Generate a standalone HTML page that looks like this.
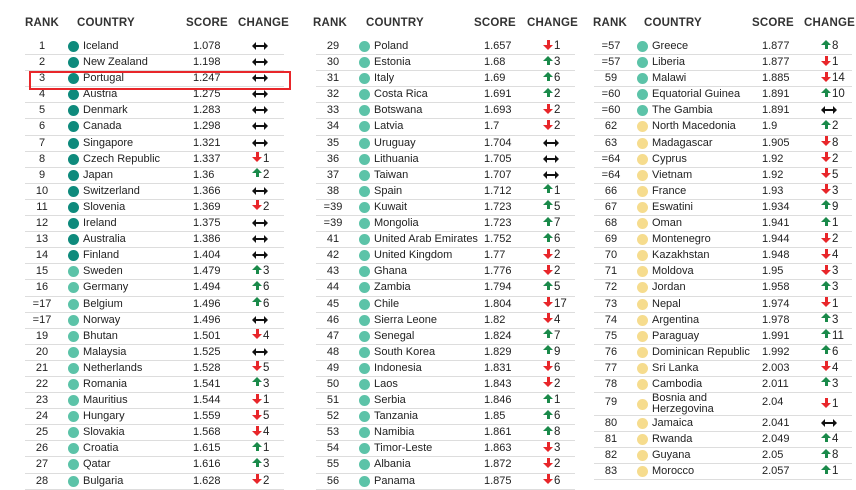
<!DOCTYPE html>
<html><head><meta charset="utf-8"><style>
body{margin:0;width:856px;height:488px;background:#fff;font-family:"Liberation Sans",Arial,sans-serif;color:#222;position:relative;overflow:hidden}
.h{position:absolute;top:17px;font-weight:bold;font-size:11.5px;color:#333;letter-spacing:0.2px}
.col{position:absolute;top:39px;width:259px}
.r{position:relative;height:16.1px;border-bottom:1px solid #ddd;box-sizing:border-box;font-size:11px;line-height:15px}
.r.tall{height:23px;line-height:10.5px}
.k{position:absolute;left:0;width:34px;text-align:center}
.d{position:absolute;left:43px;top:2px;width:11px;height:11px;border-radius:50%}
.tall .d{top:6px}
.t{background:#0e8a7c}.l{background:#5cc3a8}.y{background:#f6dc8e}
.c{position:absolute;left:58px;white-space:nowrap}
.tall .c{top:0}
.s{position:absolute;left:168px}
.tall .s,.tall .k,.tall .g{top:4px}
.g{position:absolute;left:226px;top:0;width:40px;height:15px;line-height:15px}
.g i{position:absolute;left:1px;top:0.5px;width:10px;height:10px}
.g i::before{content:"";position:absolute;left:0;border-left:5px solid transparent;border-right:5px solid transparent}
.g i::after{content:"";position:absolute;left:3.5px;width:3px;height:5px}
.up i::before{top:0;border-bottom:5px solid #1a8a4a}
.up i::after{top:4px;background:#1a8a4a}
.dn i::before{top:5px;border-top:5px solid #e8262a}
.dn i::after{top:0;background:#e8262a}
.g b{position:absolute;left:12px;top:0;font-weight:normal;font-size:11.5px;line-height:15px}
.eq i{left:2px;width:14px;top:6px;height:2px;background:#111}
.eq i::before{left:-1px;top:-3px;border:0;border-top:4px solid transparent;border-bottom:4px solid transparent;border-right:4px solid #111}
.eq i::after{left:11px;top:-3px;width:0;height:0;background:none;border-top:4px solid transparent;border-bottom:4px solid transparent;border-left:4px solid #111}
.box{position:absolute;left:29px;top:71px;width:258px;height:15px;border:2px solid #e8262a}
</style></head><body>
<div class="h" style="left:25px">RANK</div><div class="h" style="left:77px">COUNTRY</div><div class="h" style="left:186px">SCORE</div><div class="h" style="left:238px">CHANGE</div>
<div class="h" style="left:313px">RANK</div><div class="h" style="left:366px">COUNTRY</div><div class="h" style="left:474px">SCORE</div><div class="h" style="left:527px">CHANGE</div>
<div class="h" style="left:593px">RANK</div><div class="h" style="left:644px">COUNTRY</div><div class="h" style="left:752px">SCORE</div><div class="h" style="left:804px">CHANGE</div>

<div class="col" style="left:25px">
<div class="r"><span class="k">1</span><i class="d t"></i><span class="c">Iceland</span><span class="s">1.078</span><span class="g eq"><i></i></span></div>
<div class="r"><span class="k">2</span><i class="d t"></i><span class="c">New Zealand</span><span class="s">1.198</span><span class="g eq"><i></i></span></div>
<div class="r"><span class="k">3</span><i class="d t"></i><span class="c">Portugal</span><span class="s">1.247</span><span class="g eq"><i></i></span></div>
<div class="r"><span class="k">4</span><i class="d t"></i><span class="c">Austria</span><span class="s">1.275</span><span class="g eq"><i></i></span></div>
<div class="r"><span class="k">5</span><i class="d t"></i><span class="c">Denmark</span><span class="s">1.283</span><span class="g eq"><i></i></span></div>
<div class="r"><span class="k">6</span><i class="d t"></i><span class="c">Canada</span><span class="s">1.298</span><span class="g eq"><i></i></span></div>
<div class="r"><span class="k">7</span><i class="d t"></i><span class="c">Singapore</span><span class="s">1.321</span><span class="g eq"><i></i></span></div>
<div class="r"><span class="k">8</span><i class="d t"></i><span class="c">Czech Republic</span><span class="s">1.337</span><span class="g dn"><i></i><b>1</b></span></div>
<div class="r"><span class="k">9</span><i class="d t"></i><span class="c">Japan</span><span class="s">1.36</span><span class="g up"><i></i><b>2</b></span></div>
<div class="r"><span class="k">10</span><i class="d t"></i><span class="c">Switzerland</span><span class="s">1.366</span><span class="g eq"><i></i></span></div>
<div class="r"><span class="k">11</span><i class="d t"></i><span class="c">Slovenia</span><span class="s">1.369</span><span class="g dn"><i></i><b>2</b></span></div>
<div class="r"><span class="k">12</span><i class="d t"></i><span class="c">Ireland</span><span class="s">1.375</span><span class="g eq"><i></i></span></div>
<div class="r"><span class="k">13</span><i class="d t"></i><span class="c">Australia</span><span class="s">1.386</span><span class="g eq"><i></i></span></div>
<div class="r"><span class="k">14</span><i class="d t"></i><span class="c">Finland</span><span class="s">1.404</span><span class="g eq"><i></i></span></div>
<div class="r"><span class="k">15</span><i class="d l"></i><span class="c">Sweden</span><span class="s">1.479</span><span class="g up"><i></i><b>3</b></span></div>
<div class="r"><span class="k">16</span><i class="d l"></i><span class="c">Germany</span><span class="s">1.494</span><span class="g up"><i></i><b>6</b></span></div>
<div class="r"><span class="k">=17</span><i class="d l"></i><span class="c">Belgium</span><span class="s">1.496</span><span class="g up"><i></i><b>6</b></span></div>
<div class="r"><span class="k">=17</span><i class="d l"></i><span class="c">Norway</span><span class="s">1.496</span><span class="g eq"><i></i></span></div>
<div class="r"><span class="k">19</span><i class="d l"></i><span class="c">Bhutan</span><span class="s">1.501</span><span class="g dn"><i></i><b>4</b></span></div>
<div class="r"><span class="k">20</span><i class="d l"></i><span class="c">Malaysia</span><span class="s">1.525</span><span class="g eq"><i></i></span></div>
<div class="r"><span class="k">21</span><i class="d l"></i><span class="c">Netherlands</span><span class="s">1.528</span><span class="g dn"><i></i><b>5</b></span></div>
<div class="r"><span class="k">22</span><i class="d l"></i><span class="c">Romania</span><span class="s">1.541</span><span class="g up"><i></i><b>3</b></span></div>
<div class="r"><span class="k">23</span><i class="d l"></i><span class="c">Mauritius</span><span class="s">1.544</span><span class="g dn"><i></i><b>1</b></span></div>
<div class="r"><span class="k">24</span><i class="d l"></i><span class="c">Hungary</span><span class="s">1.559</span><span class="g dn"><i></i><b>5</b></span></div>
<div class="r"><span class="k">25</span><i class="d l"></i><span class="c">Slovakia</span><span class="s">1.568</span><span class="g dn"><i></i><b>4</b></span></div>
<div class="r"><span class="k">26</span><i class="d l"></i><span class="c">Croatia</span><span class="s">1.615</span><span class="g up"><i></i><b>1</b></span></div>
<div class="r"><span class="k">27</span><i class="d l"></i><span class="c">Qatar</span><span class="s">1.616</span><span class="g up"><i></i><b>3</b></span></div>
<div class="r"><span class="k">28</span><i class="d l"></i><span class="c">Bulgaria</span><span class="s">1.628</span><span class="g dn"><i></i><b>2</b></span></div>
</div>

<div class="col" style="left:316px">
<div class="r"><span class="k">29</span><i class="d l"></i><span class="c">Poland</span><span class="s">1.657</span><span class="g dn"><i></i><b>1</b></span></div>
<div class="r"><span class="k">30</span><i class="d l"></i><span class="c">Estonia</span><span class="s">1.68</span><span class="g up"><i></i><b>3</b></span></div>
<div class="r"><span class="k">31</span><i class="d l"></i><span class="c">Italy</span><span class="s">1.69</span><span class="g up"><i></i><b>6</b></span></div>
<div class="r"><span class="k">32</span><i class="d l"></i><span class="c">Costa Rica</span><span class="s">1.691</span><span class="g up"><i></i><b>2</b></span></div>
<div class="r"><span class="k">33</span><i class="d l"></i><span class="c">Botswana</span><span class="s">1.693</span><span class="g dn"><i></i><b>2</b></span></div>
<div class="r"><span class="k">34</span><i class="d l"></i><span class="c">Latvia</span><span class="s">1.7</span><span class="g dn"><i></i><b>2</b></span></div>
<div class="r"><span class="k">35</span><i class="d l"></i><span class="c">Uruguay</span><span class="s">1.704</span><span class="g eq"><i></i></span></div>
<div class="r"><span class="k">36</span><i class="d l"></i><span class="c">Lithuania</span><span class="s">1.705</span><span class="g eq"><i></i></span></div>
<div class="r"><span class="k">37</span><i class="d l"></i><span class="c">Taiwan</span><span class="s">1.707</span><span class="g eq"><i></i></span></div>
<div class="r"><span class="k">38</span><i class="d l"></i><span class="c">Spain</span><span class="s">1.712</span><span class="g up"><i></i><b>1</b></span></div>
<div class="r"><span class="k">=39</span><i class="d l"></i><span class="c">Kuwait</span><span class="s">1.723</span><span class="g up"><i></i><b>5</b></span></div>
<div class="r"><span class="k">=39</span><i class="d l"></i><span class="c">Mongolia</span><span class="s">1.723</span><span class="g up"><i></i><b>7</b></span></div>
<div class="r"><span class="k">41</span><i class="d l"></i><span class="c">United Arab Emirates</span><span class="s">1.752</span><span class="g up"><i></i><b>6</b></span></div>
<div class="r"><span class="k">42</span><i class="d l"></i><span class="c">United Kingdom</span><span class="s">1.77</span><span class="g dn"><i></i><b>2</b></span></div>
<div class="r"><span class="k">43</span><i class="d l"></i><span class="c">Ghana</span><span class="s">1.776</span><span class="g dn"><i></i><b>2</b></span></div>
<div class="r"><span class="k">44</span><i class="d l"></i><span class="c">Zambia</span><span class="s">1.794</span><span class="g up"><i></i><b>5</b></span></div>
<div class="r"><span class="k">45</span><i class="d l"></i><span class="c">Chile</span><span class="s">1.804</span><span class="g dn"><i></i><b>17</b></span></div>
<div class="r"><span class="k">46</span><i class="d l"></i><span class="c">Sierra Leone</span><span class="s">1.82</span><span class="g dn"><i></i><b>4</b></span></div>
<div class="r"><span class="k">47</span><i class="d l"></i><span class="c">Senegal</span><span class="s">1.824</span><span class="g up"><i></i><b>7</b></span></div>
<div class="r"><span class="k">48</span><i class="d l"></i><span class="c">South Korea</span><span class="s">1.829</span><span class="g up"><i></i><b>9</b></span></div>
<div class="r"><span class="k">49</span><i class="d l"></i><span class="c">Indonesia</span><span class="s">1.831</span><span class="g dn"><i></i><b>6</b></span></div>
<div class="r"><span class="k">50</span><i class="d l"></i><span class="c">Laos</span><span class="s">1.843</span><span class="g dn"><i></i><b>2</b></span></div>
<div class="r"><span class="k">51</span><i class="d l"></i><span class="c">Serbia</span><span class="s">1.846</span><span class="g up"><i></i><b>1</b></span></div>
<div class="r"><span class="k">52</span><i class="d l"></i><span class="c">Tanzania</span><span class="s">1.85</span><span class="g up"><i></i><b>6</b></span></div>
<div class="r"><span class="k">53</span><i class="d l"></i><span class="c">Namibia</span><span class="s">1.861</span><span class="g up"><i></i><b>8</b></span></div>
<div class="r"><span class="k">54</span><i class="d l"></i><span class="c">Timor-Leste</span><span class="s">1.863</span><span class="g dn"><i></i><b>3</b></span></div>
<div class="r"><span class="k">55</span><i class="d l"></i><span class="c">Albania</span><span class="s">1.872</span><span class="g dn"><i></i><b>2</b></span></div>
<div class="r"><span class="k">56</span><i class="d l"></i><span class="c">Panama</span><span class="s">1.875</span><span class="g dn"><i></i><b>6</b></span></div>
</div>

<div class="col" style="left:594px;width:258px">
<div class="r"><span class="k">=57</span><i class="d l"></i><span class="c">Greece</span><span class="s">1.877</span><span class="g up"><i></i><b>8</b></span></div>
<div class="r"><span class="k">=57</span><i class="d l"></i><span class="c">Liberia</span><span class="s">1.877</span><span class="g dn"><i></i><b>1</b></span></div>
<div class="r"><span class="k">59</span><i class="d l"></i><span class="c">Malawi</span><span class="s">1.885</span><span class="g dn"><i></i><b>14</b></span></div>
<div class="r"><span class="k">=60</span><i class="d l"></i><span class="c">Equatorial Guinea</span><span class="s">1.891</span><span class="g up"><i></i><b>10</b></span></div>
<div class="r"><span class="k">=60</span><i class="d l"></i><span class="c">The Gambia</span><span class="s">1.891</span><span class="g eq"><i></i></span></div>
<div class="r"><span class="k">62</span><i class="d y"></i><span class="c">North Macedonia</span><span class="s">1.9</span><span class="g up"><i></i><b>2</b></span></div>
<div class="r"><span class="k">63</span><i class="d y"></i><span class="c">Madagascar</span><span class="s">1.905</span><span class="g dn"><i></i><b>8</b></span></div>
<div class="r"><span class="k">=64</span><i class="d y"></i><span class="c">Cyprus</span><span class="s">1.92</span><span class="g dn"><i></i><b>2</b></span></div>
<div class="r"><span class="k">=64</span><i class="d y"></i><span class="c">Vietnam</span><span class="s">1.92</span><span class="g dn"><i></i><b>5</b></span></div>
<div class="r"><span class="k">66</span><i class="d y"></i><span class="c">France</span><span class="s">1.93</span><span class="g dn"><i></i><b>3</b></span></div>
<div class="r"><span class="k">67</span><i class="d y"></i><span class="c">Eswatini</span><span class="s">1.934</span><span class="g up"><i></i><b>9</b></span></div>
<div class="r"><span class="k">68</span><i class="d y"></i><span class="c">Oman</span><span class="s">1.941</span><span class="g up"><i></i><b>1</b></span></div>
<div class="r"><span class="k">69</span><i class="d y"></i><span class="c">Montenegro</span><span class="s">1.944</span><span class="g dn"><i></i><b>2</b></span></div>
<div class="r"><span class="k">70</span><i class="d y"></i><span class="c">Kazakhstan</span><span class="s">1.948</span><span class="g dn"><i></i><b>4</b></span></div>
<div class="r"><span class="k">71</span><i class="d y"></i><span class="c">Moldova</span><span class="s">1.95</span><span class="g dn"><i></i><b>3</b></span></div>
<div class="r"><span class="k">72</span><i class="d y"></i><span class="c">Jordan</span><span class="s">1.958</span><span class="g up"><i></i><b>3</b></span></div>
<div class="r"><span class="k">73</span><i class="d y"></i><span class="c">Nepal</span><span class="s">1.974</span><span class="g dn"><i></i><b>1</b></span></div>
<div class="r"><span class="k">74</span><i class="d y"></i><span class="c">Argentina</span><span class="s">1.978</span><span class="g up"><i></i><b>3</b></span></div>
<div class="r"><span class="k">75</span><i class="d y"></i><span class="c">Paraguay</span><span class="s">1.991</span><span class="g up"><i></i><b>11</b></span></div>
<div class="r"><span class="k">76</span><i class="d y"></i><span class="c">Dominican Republic</span><span class="s">1.992</span><span class="g up"><i></i><b>6</b></span></div>
<div class="r"><span class="k">77</span><i class="d y"></i><span class="c">Sri Lanka</span><span class="s">2.003</span><span class="g dn"><i></i><b>4</b></span></div>
<div class="r"><span class="k">78</span><i class="d y"></i><span class="c">Cambodia</span><span class="s">2.011</span><span class="g up"><i></i><b>3</b></span></div>
<div class="r tall"><span class="k">79</span><i class="d y"></i><span class="c">Bosnia and<br>Herzegovina</span><span class="s">2.04</span><span class="g dn"><i></i><b>1</b></span></div>
<div class="r"><span class="k">80</span><i class="d y"></i><span class="c">Jamaica</span><span class="s">2.041</span><span class="g eq"><i></i></span></div>
<div class="r"><span class="k">81</span><i class="d y"></i><span class="c">Rwanda</span><span class="s">2.049</span><span class="g up"><i></i><b>4</b></span></div>
<div class="r"><span class="k">82</span><i class="d y"></i><span class="c">Guyana</span><span class="s">2.05</span><span class="g up"><i></i><b>8</b></span></div>
<div class="r"><span class="k">83</span><i class="d y"></i><span class="c">Morocco</span><span class="s">2.057</span><span class="g up"><i></i><b>1</b></span></div>
</div>
<div class="box"></div>
</body></html>
